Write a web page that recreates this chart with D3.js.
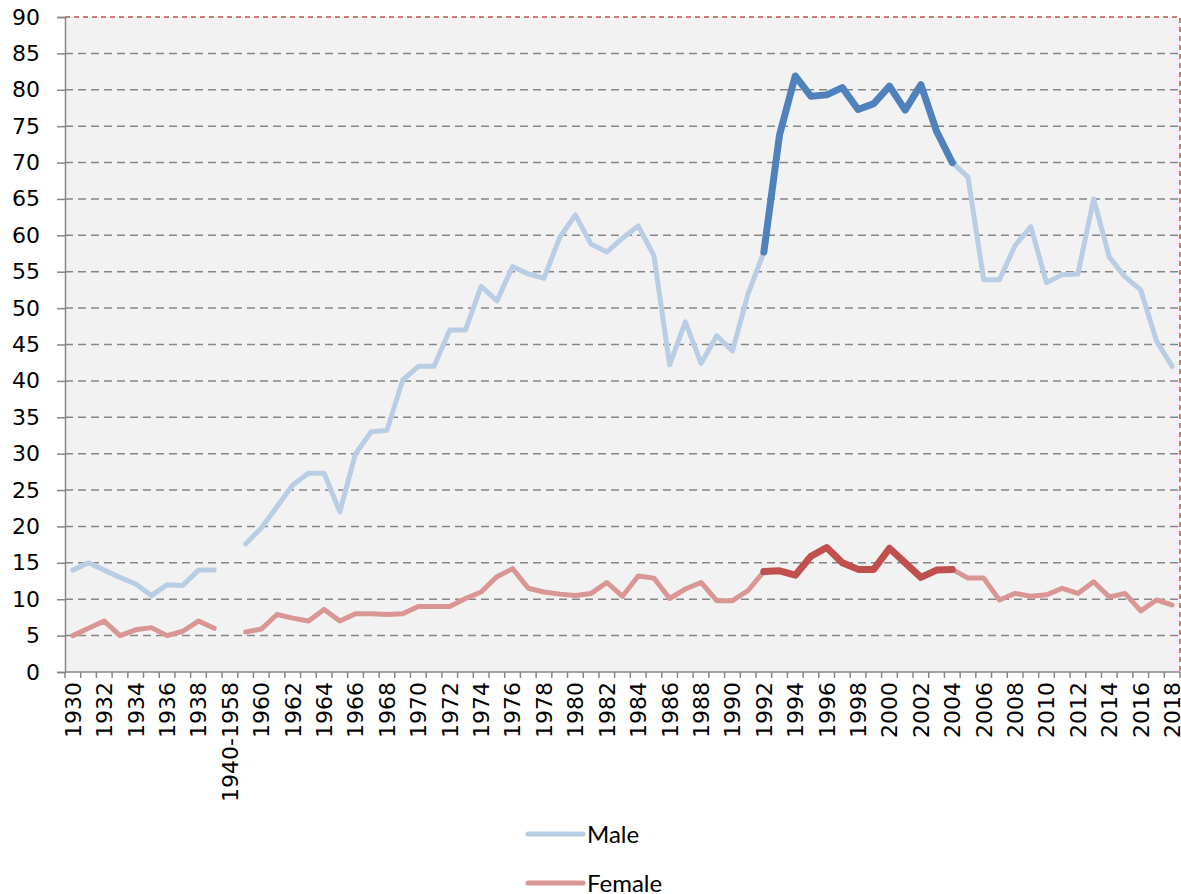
<!DOCTYPE html>
<html>
<head>
<meta charset="utf-8">
<script src="https://cdn.jsdelivr.net/npm/d3@7"></script>
<style>
  body { margin: 0; background: #fff; }
</style>
</head>
<body>
<div id="chart"></div>
<script>
// categories (1940-1958 is one merged slot with no data)
var categories = ["1930","1931","1932","1933","1934","1935","1936","1937","1938","1939",
  "1940-1958",
  "1959","1960","1961","1962","1963","1964","1965","1966","1967","1968","1969",
  "1970","1971","1972","1973","1974","1975","1976","1977","1978","1979",
  "1980","1981","1982","1983","1984","1985","1986","1987","1988","1989",
  "1990","1991","1992","1993","1994","1995","1996","1997","1998","1999",
  "2000","2001","2002","2003","2004","2005","2006","2007","2008","2009",
  "2010","2011","2012","2013","2014","2015","2016","2017","2018"];

var male = [14,15,14,13,12.1,10.5,12,11.9,14,14,
  null,
  17.6,19.8,22.7,25.7,27.3,27.3,22,30,33,33.2,40.1,
  42,42,47,47,53,51,55.7,54.7,54.1,59.7,
  62.8,58.8,57.7,59.6,61.3,57.2,42.2,48.1,42.4,46.2,
  44.1,52,57.7,73.8,81.9,79.1,79.3,80.3,77.3,78.1,
  80.5,77.2,80.7,74.3,70,68,53.9,53.9,58.6,61.2,
  53.5,54.6,54.7,65,57,54.3,52.5,45.5,42];

var female = [5,6,7,5,5.8,6.1,5,5.6,7,6,
  null,
  5.5,5.9,7.9,7.4,7,8.6,7,8,8,7.9,8,
  9,9,9,10.1,11,13.1,14.2,11.5,11,10.7,
  10.5,10.8,12.3,10.4,13.2,12.9,10.1,11.4,12.3,9.8,
  9.8,11.2,13.8,13.9,13.3,15.9,17.1,15,14.1,14.1,
  17,15,13,14,14.1,12.9,12.9,9.9,10.8,10.4,
  10.6,11.5,10.8,12.4,10.3,10.8,8.4,9.9,9.2];

var yTicks = [0,5,10,15,20,25,30,35,40,45,50,55,60,65,70,75,80,85,90];
var highlightFrom = "1992", highlightTo = "2004";

var W = 1181, H = 894;
var margin = {top: 17, right: 1, bottom: 222, left: 65};
var width = W - margin.left - margin.right;
var height = H - margin.top - margin.bottom;

var svg = d3.select("#chart").append("svg")
    .attr("width", W)
    .attr("height", H)
  .append("g")
    .attr("transform", "translate(" + margin.left + "," + margin.top + ")");

var x = d3.scaleBand().domain(categories).range([0, width]).padding(0);
var y = d3.scaleLinear().domain([0, 90]).range([height, 0]);
var cx = function(c) { return x(c) + x.bandwidth() / 2; };

// plot background
svg.append("rect")
    .attr("width", width)
    .attr("height", height)
    .attr("fill", "#f2f2f2");

// gridlines
svg.selectAll("line.grid")
    .data(yTicks.filter(function(d) { return d > 0 && d < 90; }))
  .enter().append("line")
    .attr("class", "grid")
    .attr("x1", 0).attr("x2", width)
    .attr("y1", function(d) { return y(d); })
    .attr("y2", function(d) { return y(d); })
    .attr("stroke", "#868686")
    .attr("stroke-width", 1.5)
    .attr("stroke-dasharray", "8,5");

// red dashed top and right border
svg.append("path")
    .attr("d", "M0," + y(90) + "H" + width + "V" + height)
    .attr("fill", "none")
    .attr("stroke", "#c0504d")
    .attr("stroke-width", 1.5)
    .attr("stroke-dasharray", "5,4");

// y axis
var yAxis = svg.append("g")
    .call(d3.axisLeft(y).tickValues(yTicks).tickSize(8).tickPadding(17));
yAxis.select(".domain").attr("stroke", "#868686").attr("stroke-width", 1.5);
yAxis.selectAll(".tick line").attr("stroke", "#868686").attr("stroke-width", 1.5);
yAxis.selectAll("text")
    .attr("font-family", "DejaVu Sans")
    .attr("font-size", 22)
    .attr("fill", "#000");

// x axis: labels every second category
var xAxis = svg.append("g")
    .attr("transform", "translate(0," + height + ")")
    .call(d3.axisBottom(x)
      .tickValues(categories.filter(function(d, i) { return i % 2 === 0; }))
      .tickSize(0));
xAxis.select(".domain").remove();
xAxis.selectAll("text")
    .attr("font-family", "DejaVu Sans")
    .attr("font-size", 22)
    .attr("fill", "#000")
    .attr("transform", "rotate(-90)")
    .attr("text-anchor", "end")
    .attr("x", -10)
    .attr("y", 0)
    .attr("dy", "0.36em");

// x axis line and tick marks between categories
svg.append("line")
    .attr("x1", 0).attr("x2", width)
    .attr("y1", height).attr("y2", height)
    .attr("stroke", "#868686")
    .attr("stroke-width", 1.5);
svg.selectAll("line.xtick")
    .data(categories.concat(["end"]))
  .enter().append("line")
    .attr("class", "xtick")
    .attr("x1", function(d) { return d === "end" ? width : x(d); })
    .attr("x2", function(d) { return d === "end" ? width : x(d); })
    .attr("y1", height).attr("y2", height + 6)
    .attr("stroke", "#868686")
    .attr("stroke-width", 1.5);

// lines
var line = d3.line()
    .defined(function(d) { return d.v != null; })
    .x(function(d) { return cx(d.c); })
    .y(function(d) { return y(d.v); });

function rows(vals) {
  return categories.map(function(c, i) { return {c: c, v: vals[i]}; });
}
var i0 = categories.indexOf(highlightFrom), i1 = categories.indexOf(highlightTo);

var series = [
  {name: "Male", vals: male, light: "#b9cde5", dark: "#4f81bd"},
  {name: "Female", vals: female, light: "#d99694", dark: "#c0504d"}
];

series.forEach(function(s) {
  svg.append("path")
      .datum(rows(s.vals))
      .attr("fill", "none")
      .attr("stroke", s.light)
      .attr("stroke-width", 5)
      .attr("stroke-linejoin", "round")
      .attr("stroke-linecap", "round")
      .attr("d", line);
});
series.forEach(function(s) {
  svg.append("path")
      .datum(rows(s.vals).slice(i0, i1 + 1))
      .attr("fill", "none")
      .attr("stroke", s.dark)
      .attr("stroke-width", 7)
      .attr("stroke-linejoin", "round")
      .attr("stroke-linecap", "round")
      .attr("d", line);
});

// legend
var legend = svg.append("g")
    .attr("transform", "translate(" + (528 - margin.left) + "," + (834 - margin.top) + ")");
series.forEach(function(s, i) {
  var g = legend.append("g").attr("transform", "translate(0," + (i * 49) + ")");
  g.append("line")
      .attr("x1", 0).attr("x2", 55)
      .attr("stroke", s.light)
      .attr("stroke-width", 5)
      .attr("stroke-linecap", "round");
  g.append("text")
      .attr("x", 59)
      .attr("y", 0)
      .attr("dy", "0.36em")
      .attr("font-family", "Lato")
      .attr("font-size", 24)
      .text(s.name);
});
</script>
</body>
</html>
